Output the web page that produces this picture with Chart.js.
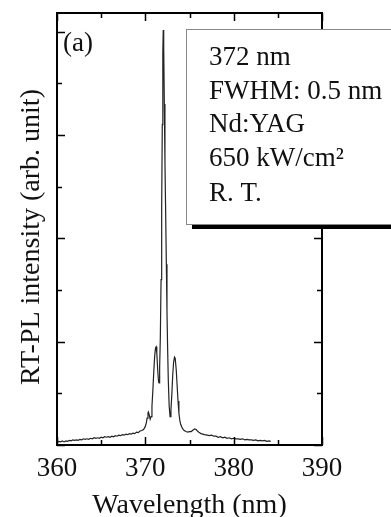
<!DOCTYPE html>
<html>
<head>
<meta charset="utf-8">
<script src="https://cdn.jsdelivr.net/npm/chart.js@4"></script>
<style>
  html, body { margin: 0; padding: 0; background: #fff; }
  #wrap { width: 391px; height: 517px; }
</style>
</head>
<body>
<div id="wrap"><canvas id="myChart" width="391" height="517"></canvas></div>
<script>
// spectrum (nm, arb. unit)
const wavelengths = [
  360.0, 360.2, 360.4, 360.6, 360.8, 361.0, 361.2, 361.4, 361.6, 361.8,
  362.0, 362.2, 362.4, 362.6, 362.8, 363.0, 363.2, 363.4, 363.6, 363.8,
  364.0, 364.2, 364.4, 364.6, 364.8, 365.0, 365.2, 365.4, 365.6, 365.8,
  366.0, 366.2, 366.4, 366.6, 366.8, 367.0, 367.2, 367.4, 367.6, 367.8,
  368.0, 368.2, 368.4, 368.6, 368.8, 369.0, 369.2, 369.4, 369.6, 369.8,
  370.0, 370.1, 370.2, 370.3, 370.35, 370.45, 370.55, 370.65, 370.75, 370.85,
  370.95, 371.05, 371.15, 371.22, 371.3, 371.4, 371.5, 371.55, 371.62, 371.7,
  371.78, 371.85, 371.92, 371.98, 372.03, 372.08, 372.15, 372.22, 372.3, 372.38,
  372.45, 372.52, 372.6, 372.7, 372.8, 372.9, 373.0, 373.1, 373.2, 373.3,
  373.38, 373.5, 373.6, 373.7, 373.8, 373.9, 374.0, 374.2, 374.4, 374.6,
  374.8, 375.0, 375.2, 375.4, 375.6, 375.75, 375.9, 376.1, 376.3, 376.5,
  376.7, 377.0, 377.25, 377.5, 377.75, 378.0, 378.25, 378.5, 378.75, 379.0,
  379.25, 379.5, 379.75, 380.0, 380.25, 380.5, 380.75, 381.0, 381.25, 381.5,
  381.75, 382.0, 382.25, 382.5, 382.75, 383.0, 383.25, 383.5, 383.75, 384.0,
  384.2
];
const intensity = [
  0.05, 0.07, 0.06, 0.08, 0.06, 0.08, 0.07, 0.09, 0.08, 0.10,
  0.09, 0.10, 0.09, 0.11, 0.10, 0.12, 0.11, 0.12, 0.11, 0.13,
  0.12, 0.14, 0.13, 0.14, 0.13, 0.15, 0.14, 0.16, 0.15, 0.16,
  0.15, 0.17, 0.16, 0.18, 0.17, 0.19, 0.18, 0.20, 0.19, 0.21,
  0.20, 0.22, 0.21, 0.23, 0.22, 0.25, 0.24, 0.27, 0.28, 0.30,
  0.36, 0.42, 0.52, 0.62, 0.64, 0.58, 0.50, 0.55, 0.75, 1.05,
  1.40, 1.70, 1.88, 1.90, 1.78, 1.45, 1.22, 1.20, 1.50, 2.10,
  3.20, 4.60, 6.20, 7.60, 8.03, 7.70, 6.60, 5.50, 4.50, 3.50,
  2.60, 1.90, 1.25, 0.75, 0.55, 0.68, 0.98, 1.35, 1.60, 1.70,
  1.68, 1.45, 1.15, 0.85, 0.62, 0.48, 0.40, 0.32, 0.28, 0.26,
  0.25, 0.26, 0.26, 0.29, 0.31, 0.30, 0.27, 0.24, 0.22, 0.21,
  0.20, 0.19, 0.18, 0.19, 0.17, 0.17, 0.15, 0.16, 0.14, 0.15,
  0.13, 0.14, 0.12, 0.13, 0.12, 0.12, 0.11, 0.12, 0.10, 0.11,
  0.10, 0.10, 0.09, 0.10, 0.08, 0.09, 0.08, 0.09, 0.07, 0.08,
  0.07
];
const xTickValues = [360, 365, 370, 375, 380, 385, 390];
const yTickValues = [0, 1, 2, 3, 4, 5, 6, 7, 8];
const infoLines = ['372 nm', 'FWHM: 0.5 nm', 'Nd:YAG', '650 kW/cm\u00B2', 'R. T.'];
const panelLabel = '(a)';
const yTitle = 'RT-PL intensity (arb. unit)';

const serif = '"Liberation Serif", "Times New Roman", serif';

// frame, inward ticks, y title, info box and panel label
const decorations = {
  id: 'decorations',
  afterDraw(chart) {
    const ctx = chart.ctx;
    const area = chart.chartArea;
    const xs = chart.scales.x;
    const ys = chart.scales.y;
    ctx.save();
    ctx.strokeStyle = '#000';
    ctx.lineWidth = 1.5;
    xTickValues.forEach(v => {
      const px = Math.round(xs.getPixelForValue(v)) + 0.5;
      const len = v % 10 === 0 ? 8 : 5;
      ctx.beginPath();
      ctx.moveTo(px, area.bottom); ctx.lineTo(px, area.bottom - len);
      ctx.moveTo(px, area.top); ctx.lineTo(px, area.top + len);
      ctx.stroke();
    });
    yTickValues.forEach(v => {
      const py = Math.round(ys.getPixelForValue(v)) + 0.5;
      const len = v % 2 === 0 ? 8 : 5;
      ctx.beginPath();
      ctx.moveTo(area.left, py); ctx.lineTo(area.left + len, py);
      ctx.moveTo(area.right, py); ctx.lineTo(area.right - len, py);
      ctx.stroke();
    });
    ctx.lineWidth = 2;
    ctx.strokeRect(area.left, area.top, area.right - area.left, area.bottom - area.top);

    // y axis title, rotated
    ctx.save();
    ctx.translate(39, 237);
    ctx.rotate(-Math.PI / 2);
    ctx.fillStyle = '#111';
    ctx.font = '28px ' + serif;
    ctx.textAlign = 'center';
    ctx.textBaseline = 'alphabetic';
    ctx.fillText(yTitle, 0, 0);
    ctx.restore();

    // info box with drop shadow
    const bx = 186, by = 29, bw = 212, bh = 195;
    ctx.fillStyle = '#000';
    ctx.fillRect(bx + 6, by + 5, bw, bh);
    ctx.fillStyle = '#fff';
    ctx.fillRect(bx, by, bw, bh);
    ctx.strokeStyle = '#888';
    ctx.lineWidth = 1;
    ctx.strokeRect(bx + 0.5, by + 0.5, bw, bh);

    ctx.fillStyle = '#111';
    ctx.font = '27px ' + serif;
    ctx.textBaseline = 'alphabetic';
    ctx.textAlign = 'left';
    const baselines = [65, 99, 132, 166, 201];
    infoLines.forEach((t, i) => ctx.fillText(t, 209, baselines[i]));

    ctx.fillText(panelLabel, 63, 51);
    ctx.restore();
  }
};

const ctx = document.getElementById('myChart').getContext('2d');
const chart = new Chart(ctx, {
  type: 'line',
  data: {
    datasets: [{
      data: wavelengths.map((w, i) => ({ x: w, y: intensity[i] })),
      borderColor: '#222',
      borderWidth: 1.2,
      pointRadius: 0,
      tension: 0,
      fill: false
    }]
  },
  options: {
    responsive: false,
    animation: false,
    layout: { padding: { top: 13, right: 69, left: 0, bottom: 0 } },
    plugins: { legend: { display: false }, tooltip: { enabled: false } },
    scales: {
      x: {
        type: 'linear',
        min: 360,
        max: 390,
        grid: { display: false, drawTicks: false },
        border: { display: false },
        ticks: {
          stepSize: 10,
          padding: 8,
          color: '#111',
          font: { family: serif, size: 27 }
        },
        title: {
          display: true,
          text: 'Wavelength (nm)',
          color: '#111',
          font: { family: serif, size: 28 },
          padding: { top: 0, bottom: -5 }
        },
        afterFit(scale) { scale.height = 72; }
      },
      y: {
        type: 'linear',
        min: 0,
        max: 8.36,
        grid: { display: false, drawTicks: false },
        border: { display: false },
        ticks: { display: false },
        afterFit(scale) { scale.width = 57; }
      }
    }
  },
  plugins: [decorations]
});
</script>
</body>
</html>
